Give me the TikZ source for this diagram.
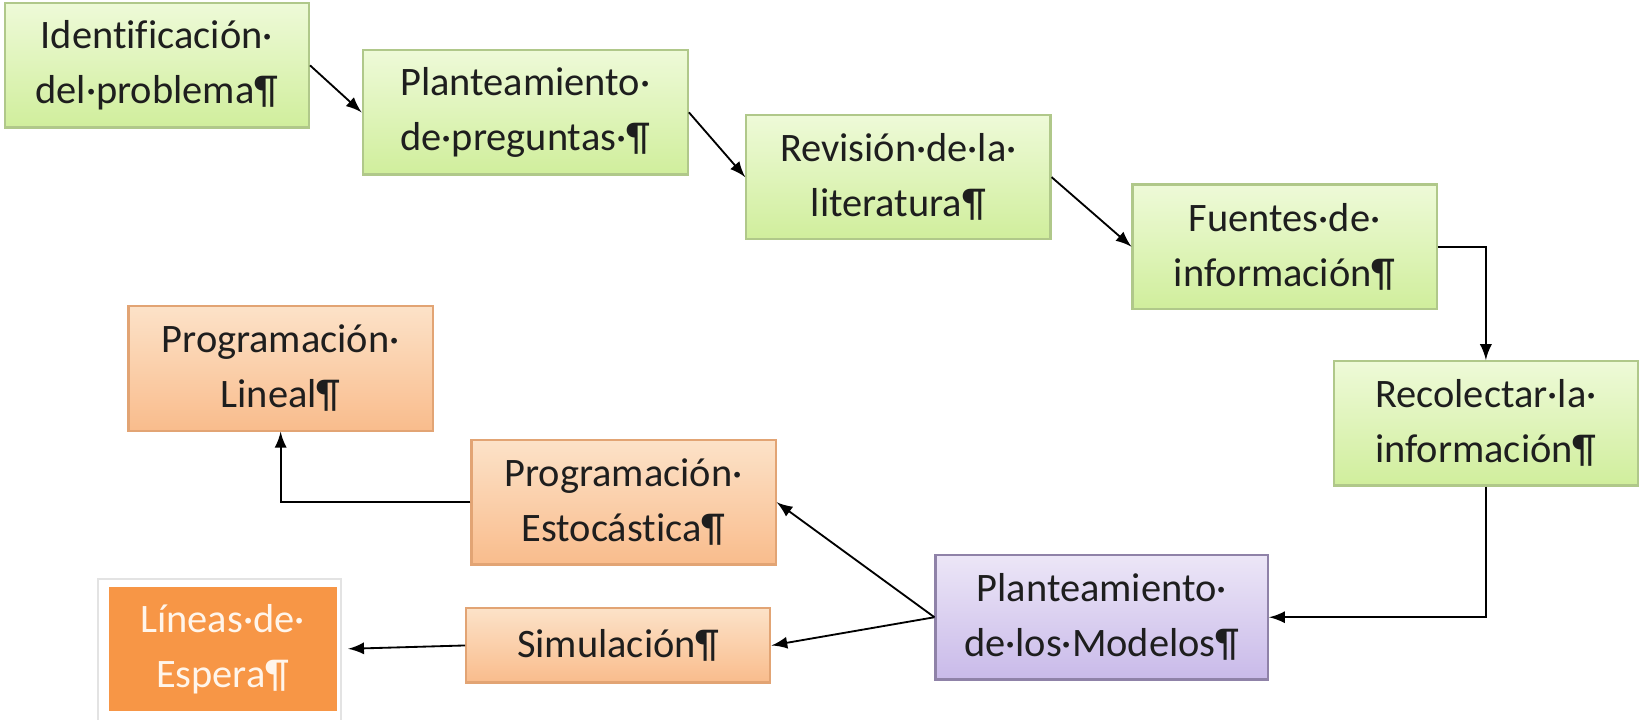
\documentclass[tikz,border=0pt]{standalone}
\usepackage{fontspec}
\setmainfont{Carlito}[Ligatures=NoCommon]
\usepackage{tikz}
\usetikzlibrary{arrows, calc}

\definecolor{greentop}{HTML}{EEFAD8}
\definecolor{greenbot}{HTML}{D0EE9C}
\definecolor{greenline}{HTML}{B0C88A}
\definecolor{orangetop}{HTML}{FCE2C8}
\definecolor{orangebot}{HTML}{F9BC8C}
\definecolor{orangeline}{HTML}{E2A474}
\definecolor{purpletop}{HTML}{ECE6F7}
\definecolor{purplebot}{HTML}{C9BAE9}
\definecolor{purpleline}{HTML}{8F82A8}
\definecolor{darkorange}{HTML}{F79646}
\definecolor{textgray}{HTML}{1E1E1E}

\tikzset{
  box/.style={rectangle, align=center, inner sep=0pt, line width=0.6pt,
    minimum width=2.91cm, minimum height=1.19cm, text=textgray,
    font=\fontsize{11}{15}\selectfont},
  greenbox/.style={box, draw=greenline, top color=greentop, bottom color=greenbot},
  orangebox/.style={box, draw=orangeline, top color=orangetop, bottom color=orangebot},
  purplebox/.style={box, draw=purpleline, top color=purpletop, bottom color=purplebot},
  waitbox/.style={box, fill=darkorange, text=white!92!orange},
  frame/.style={draw=gray!22, line width=0.5pt},
  link/.style={-latex, line width=0.5pt, black}
}

\begin{document}
\begin{tikzpicture}
    \useasboundingbox (0, 0) rectangle (15.68, -6.88);
    % process, top row
    \node[greenbox] (ident) at (1.50, -0.625) {Identificación·\\del·problema¶};
    \node[greenbox, minimum width=3.11cm] (plpreg) at (5.025, -1.075) {Planteamiento·\\de·preguntas·¶};
    \node[greenbox] (rev) at (8.595, -1.695) {Revisión·de·la·\\literatura¶};
    \node[greenbox] (fuent) at (12.29, -2.36) {Fuentes·de·\\información¶};
    \node[greenbox] (recol) at (14.215, -4.05) {Recolectar·la·\\información¶};
    % models
    \node[purplebox, minimum width=3.18cm] (model) at (10.54, -5.905) {Planteamiento·\\de·los·Modelos¶};
    \node[orangebox] (estoc) at (5.965, -4.805) {Programación·\\Estocástica¶};
    \node[orangebox] (lineal) at (2.685, -3.525) {Programación·\\Lineal¶};
    \node[orangebox, minimum height=0.71cm] (simul) at (5.915, -6.175) {Simulación¶};
    \node[waitbox, minimum width=2.18cm, minimum height=1.18cm] (lineas) at (2.13, -6.21) {Líneas·de·\\Espera¶};
    \draw[frame] ($(lineas.north west)+(-0.09, 0.07)$) rectangle ($(lineas.south east)+(0.03, -0.09)$);
    % connectors
    \draw[link] (ident.east) -- (plpreg.west);
    \draw[link] (plpreg.east) -- (rev.west);
    \draw[link] (rev.east) -- (fuent.west);
    \draw[link] (fuent.east) -| (recol.north);
    \draw[link] (recol.south) |- (model.east);
    \draw[link] (model.west) -- (estoc.east);
    \draw[link] (model.west) -- (simul.east);
    \draw[link] (estoc.west) -| (lineal.south);
    \draw[link, shorten >=0.1cm] (simul.west) -- (lineas.east);
\end{tikzpicture}
\end{document}
